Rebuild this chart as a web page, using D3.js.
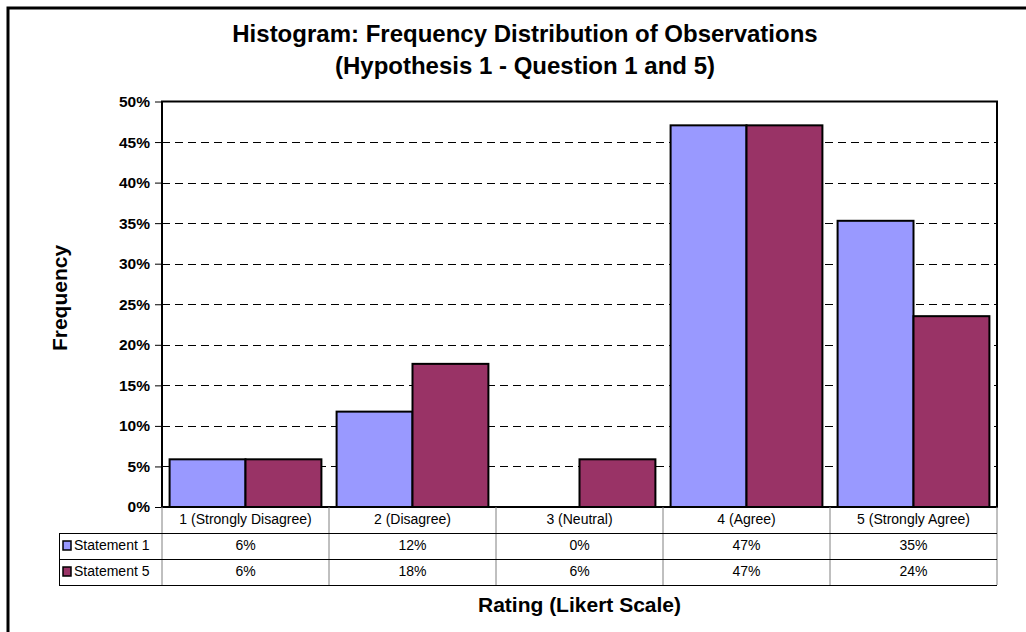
<!DOCTYPE html>
<html><head><meta charset="utf-8">
<script src="https://cdn.jsdelivr.net/npm/d3@7"></script>
<style>
html,body{margin:0;padding:0;background:#fff;}
svg{display:block;}
text{font-family:"Liberation Sans",Arial,sans-serif;fill:#000;}
</style></head>
<body>
<svg id="chart" width="1026" height="632"></svg>
<script>
const categories = ["1 (Strongly Disagree)", "2 (Disagree)", "3 (Neutral)", "4 (Agree)", "5 (Strongly Agree)"];
const seriesNames = ["Statement 1", "Statement 5"];
const statement1 = [0.0588, 0.1176, 0.0, 0.4706, 0.3529];
const statement5 = [0.0588, 0.1765, 0.0588, 0.4706, 0.2353];
const seriesColors = ["#9999FF", "#993366"];
const yTicks = [0, 0.05, 0.10, 0.15, 0.20, 0.25, 0.30, 0.35, 0.40, 0.45, 0.50];
const titleLines = ["Histogram: Frequency Distribution of Observations", "(Hypothesis 1 - Question 1 and 5)"];
const yTitle = "Frequency";
const xTitle = "Rating (Likert Scale)";

const seriesData = [statement1, statement5];
const svg = d3.select("#chart");
const L = 162, R = 997, T = 101.5, B = 507;
const rowH = 26;
const tableLeft = 59;

// outer border
svg.append("rect").attr("x", 8).attr("y", 8).attr("width", 1040).attr("height", 660)
  .attr("fill", "none").attr("stroke", "#000").attr("stroke-width", 3);

// titles
svg.append("text").attr("x", 525).attr("y", 42).attr("text-anchor", "middle")
  .attr("font-size", 24).attr("font-weight", "bold").text(titleLines[0]);
svg.append("text").attr("x", 525).attr("y", 74).attr("text-anchor", "middle")
  .attr("font-size", 24).attr("font-weight", "bold").text(titleLines[1]);

const x0 = d3.scaleBand().domain(categories).range([L, R]).paddingInner(0).paddingOuter(0);
const x1 = d3.scaleBand().domain(seriesNames).range([0, x0.bandwidth()]).paddingInner(0).paddingOuter(0.1);
const y = d3.scaleLinear().domain([0, 0.5]).range([B, T]);

// gridlines
svg.append("g").selectAll("line").data(yTicks.filter(d => d > 0 && d < 0.5)).join("line")
  .attr("x1", L).attr("x2", R).attr("y1", d => Math.round(y(d)) + 0.5).attr("y2", d => Math.round(y(d)) + 0.5)
  .attr("stroke", "#000").attr("stroke-width", 1).attr("stroke-dasharray", "8,5");

// bars
const cats = svg.append("g").selectAll("g").data(categories).join("g")
  .attr("transform", c => `translate(${x0(c)},0)`);
cats.selectAll("rect").data((c, i) => seriesNames.map((s, j) => ({s, j, v: seriesData[j][i]})))
  .join("rect")
  .filter(d => d.v > 0)
  .attr("x", d => x1(d.s)).attr("width", x1.bandwidth())
  .attr("y", d => y(d.v)).attr("height", d => B - y(d.v))
  .attr("fill", d => seriesColors[d.j]).attr("stroke", "#000").attr("stroke-width", 2);

// y axis
const yAxis = d3.axisLeft(y).tickValues(yTicks).tickFormat(d3.format(".0%")).tickSize(7).tickPadding(5);
const ga = svg.append("g").attr("transform", `translate(${L},0)`).call(yAxis);
ga.select(".domain").remove();
ga.selectAll(".tick line").attr("stroke", "#000");
ga.selectAll(".tick text").attr("font-size", 15.5).attr("font-weight", "bold")
  .attr("font-family", "'Liberation Sans',Arial,sans-serif").attr("fill", "#000");

// plot border
svg.append("rect").attr("x", L).attr("y", T).attr("width", R - L).attr("height", B - T)
  .attr("fill", "none").attr("stroke", "#000").attr("stroke-width", 2);

// data table
const tg = svg.append("g");
const vx = categories.map(c => x0(c)).concat([R]);
tg.selectAll("line.v").data(vx).join("line").attr("class", "v")
  .attr("x1", d => d).attr("x2", d => d).attr("y1", B).attr("y2", B + 3 * rowH)
  .attr("stroke", "#808080").attr("stroke-width", 1);
[1, 2, 3].forEach(k => {
  tg.append("line").attr("x1", tableLeft).attr("x2", R)
    .attr("y1", B + k * rowH + 0.5).attr("y2", B + k * rowH + 0.5)
    .attr("stroke", "#000").attr("stroke-width", 1);
});
tg.append("line").attr("x1", tableLeft + 0.5).attr("x2", tableLeft + 0.5)
  .attr("y1", B + rowH).attr("y2", B + 3 * rowH).attr("stroke", "#000").attr("stroke-width", 1);

tg.selectAll("text.cat").data(categories).join("text").attr("class", "cat")
  .attr("x", c => x0(c) + x0.bandwidth() / 2).attr("y", B + 17)
  .attr("text-anchor", "middle").attr("font-size", 14).text(c => c);

seriesNames.forEach((s, j) => {
  const ry = B + (j + 1) * rowH;
  tg.append("rect").attr("x", 63).attr("y", ry + 8).attr("width", 8).attr("height", 9)
    .attr("fill", seriesColors[j]).attr("stroke", "#000").attr("stroke-width", 1.5);
  tg.append("text").attr("x", 74).attr("y", ry + 17).attr("font-size", 14).text(s);
  tg.selectAll(null).data(seriesData[j]).join("text")
    .attr("x", (v, i) => x0(categories[i]) + x0.bandwidth() / 2).attr("y", ry + 17)
    .attr("text-anchor", "middle").attr("font-size", 14).text(v => d3.format(".0%")(v));
});

// axis titles
svg.append("text").attr("x", (L + R) / 2).attr("y", 612).attr("text-anchor", "middle")
  .attr("font-size", 21).attr("font-weight", "bold").text(xTitle);
svg.append("text").attr("transform", `translate(67,298) rotate(-90)`).attr("text-anchor", "middle")
  .attr("font-size", 21).attr("font-weight", "bold").text(yTitle);
</script>
</body></html>
